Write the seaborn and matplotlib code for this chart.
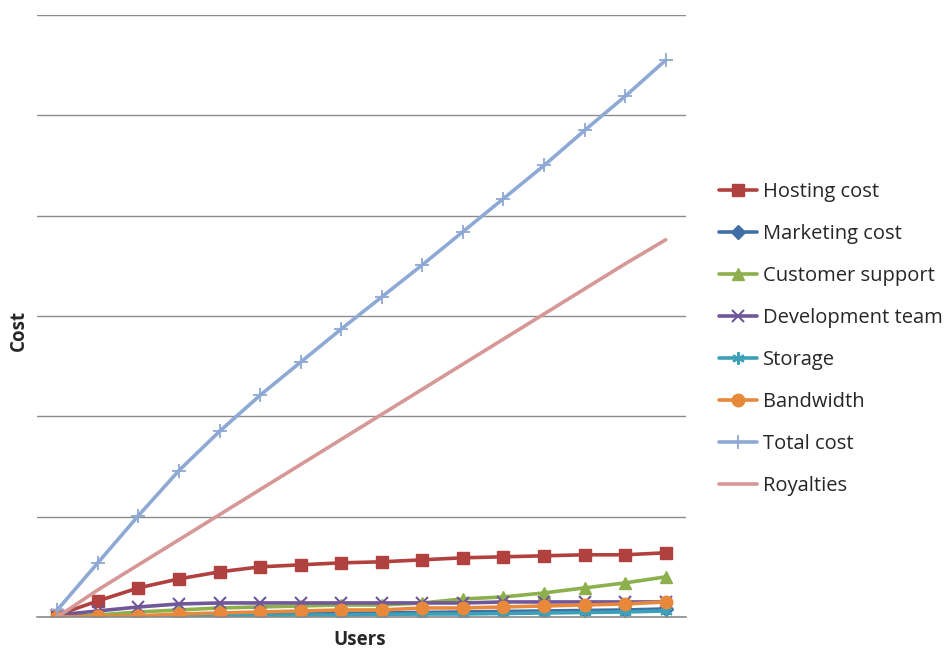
import matplotlib
matplotlib.use("Agg")
import matplotlib.pyplot as plt
import seaborn as sns
import numpy as np

sns.set_theme(style="white")
plt.rcParams['font.family'] = ['Open Sans', 'DejaVu Sans']

users = list(range(16))
hosting = [2, 16, 29, 38, 45, 50, 52, 54, 55, 57, 59, 60, 61, 62, 62, 64]
marketing = [0, 0.5, 1, 1.5, 2, 2.5, 3, 3.5, 4, 4.5, 5, 5.5, 6, 6.5, 7, 8]
support = [0, 2, 5, 7, 9, 10, 11, 12, 12, 14, 18, 20, 24, 29, 34, 40]
devteam = [2, 6, 10, 13, 14, 14, 14, 14, 14, 14, 14, 15, 15, 15, 15, 15]
storage = [0, 0, 0.5, 1, 1, 1.5, 2, 2, 2.5, 3, 3, 3.5, 4, 4.5, 5, 6]
bandwidth = [0, 0.5, 1, 3, 4, 5, 6, 7, 7, 9, 9, 10, 11, 12, 13, 15]
total = [7, 54, 101, 146, 185, 221, 254, 287, 319, 351, 384, 417, 450, 485, 519, 555]
royalties = [0, 27, 52, 77, 102, 127, 152, 177, 202, 227, 252, 277, 302, 327, 352, 376]

series = [
    ("Hosting cost", hosting, "#B0413E", "s", 9, 1),
    ("Marketing cost", marketing, "#3F6FA5", "D", 7, 1),
    ("Customer support", support, "#8DB04C", "^", 9, 1),
    ("Development team", devteam, "#70579A", "x", 9, 1.5),
    ("Storage", storage, "#3BA0B8", (6, 2, 0), 9, 1.5),
    ("Bandwidth", bandwidth, "#E8883A", "o", 9, 1),
    ("Total cost", total, "#8EA9D4", "+", 10, 1.3),
    ("Royalties", royalties, "#D69896", None, 0, 1),
]

W, H = 952, 650
fig = plt.figure(figsize=(W / 100, H / 100), dpi=100)
ax = fig.add_axes([37 / W, (H - 617) / H, (686 - 37) / W, (617 - 15) / H])

for name, vals, color, mk, ms, mew in series:
    kw = dict(marker=mk, markersize=ms, markeredgewidth=mew,
              markeredgecolor=color, markerfacecolor=color) if mk is not None else {}
    sns.lineplot(x=users, y=vals, ax=ax, color=color, linewidth=2.6,
                 label=name, **kw)

ax.set_xlim(-0.5, 15.5)
ax.set_ylim(0, 600)
ax.set_yticks(np.arange(0, 601, 100))
ax.set_xticks([])
ax.set_yticklabels([])
ax.tick_params(left=False, bottom=False)
ax.yaxis.grid(True, color="#8C8C8C", linewidth=1.0)
ax.set_axisbelow(True)
for s in ["top", "right", "left"]:
    ax.spines[s].set_visible(False)
ax.spines["bottom"].set_color("#8C8C8C")
ax.spines["bottom"].set_linewidth(1.2)

ax.set_xlabel("")
ax.set_ylabel("")
fig.text(360 / W, 1 - 640 / H, "Users", ha="center", va="center",
         fontsize=13.5, fontweight="bold")
fig.text(19 / W, 1 - 330 / H, "Cost", ha="center", va="center",
         fontsize=13.5, fontweight="bold", rotation=90)

handles, labels = ax.get_legend_handles_labels()
if ax.legend_:
    ax.legend_.remove()
fig.legend(handles, labels, loc="upper left", bbox_to_anchor=(709 / W, 1 - 172 / H),
           frameon=False, fontsize=14.5, handlelength=1.9, handletextpad=0.3,
           labelspacing=1.09, borderpad=0)

fig.savefig("out.png", dpi=100)
